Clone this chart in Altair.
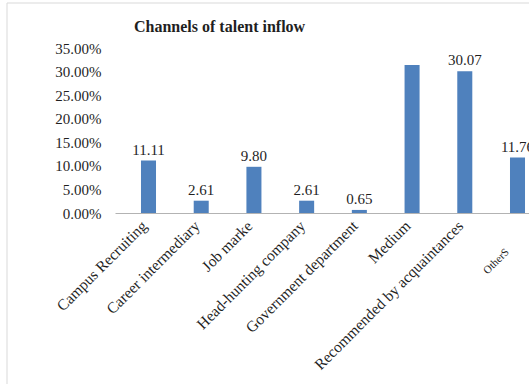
import altair as alt
import pandas as pd

categories = [
    "Campus Recruiting",
    "Career intermediary",
    "Job marke",
    "Head-hunting company",
    "Government department",
    "Medium",
    "Recommended by acquaintances",
    "OtherS",
]
values_pct = [11.11, 2.61, 9.80, 2.61, 0.65, 31.39, 30.07, 11.76]
value_labels = ["11.11", "2.61", "9.80", "2.61", "0.65", "", "30.07", "11.76"]
y_ticks = [0.0, 0.05, 0.10, 0.15, 0.20, 0.25, 0.30, 0.35]

df = pd.DataFrame({
    "channel": categories,
    "share": [v / 100 for v in values_pct],
    "label": value_labels,
})

FONT = "Liberation Serif"
TXT = "#1f1f1f"
BAR = "#4F81BD"
SMALL = "datum.value == 'OtherS'"

x_enc = alt.X(
    "channel:N",
    sort=None,
    title=None,
    scale=alt.Scale(range=[0, 436], paddingInner=0.715, paddingOuter=0.493),
    axis=alt.Axis(
        labelAngle=-45,
        labelAlign="right",
        labelBaseline="middle",
        labelFont=FONT,
        labelFontSize={"condition": {"test": SMALL, "value": 11}, "value": 15.5},
        labelOffset={"condition": {"test": SMALL, "value": -10}, "value": -4},
        labelPadding={"condition": {"test": SMALL, "value": 37}, "value": 10},
        labelColor=TXT,
        labelLimit=400,
        ticks=False,
        domainColor="#b3b3b3",
        domainWidth=1,
        grid=False,
    ),
)
y_enc = alt.Y(
    "share:Q",
    title=None,
    scale=alt.Scale(domain=[0, 0.35], nice=False),
    axis=alt.Axis(
        values=y_ticks,
        format=".2%",
        labelFont=FONT,
        labelFontSize=15,
        labelColor=TXT,
        labelPadding=14,
        ticks=False,
        domain=False,
        grid=False,
    ),
)

frame = alt.Chart(alt.Data(values=[{"f": 1}])).mark_rect(
    fillOpacity=0, stroke="#d9d9d9", strokeWidth=1
).encode(
    x=alt.value(-108), y=alt.value(-45), x2=alt.value(700), y2=alt.value(500)
)

base = alt.Chart(df).encode(x=x_enc, y=y_enc)
bars = base.mark_bar(color=BAR)
text = base.mark_text(
    baseline="alphabetic", dy=-6, font=FONT, fontSize=15, color=TXT
).encode(text="label:N")

chart = alt.layer(frame, bars, text).properties(
    width=414,
    height=165,
    autosize=alt.AutoSizeParams(type="none"),
    padding={"left": 115, "top": 48, "right": 0, "bottom": 171},
    title=alt.TitleParams(
        "Channels of talent inflow",
        anchor="start",
        frame="group",
        dx=19,
        dy=42,
        font=FONT,
        fontSize=16,
        fontWeight="bold",
        color=TXT,
        offset=10,
    ),
    background="white",
).configure_view(stroke=None)

chart.save("out.html", embed_options={"renderer": "svg", "actions": False})
